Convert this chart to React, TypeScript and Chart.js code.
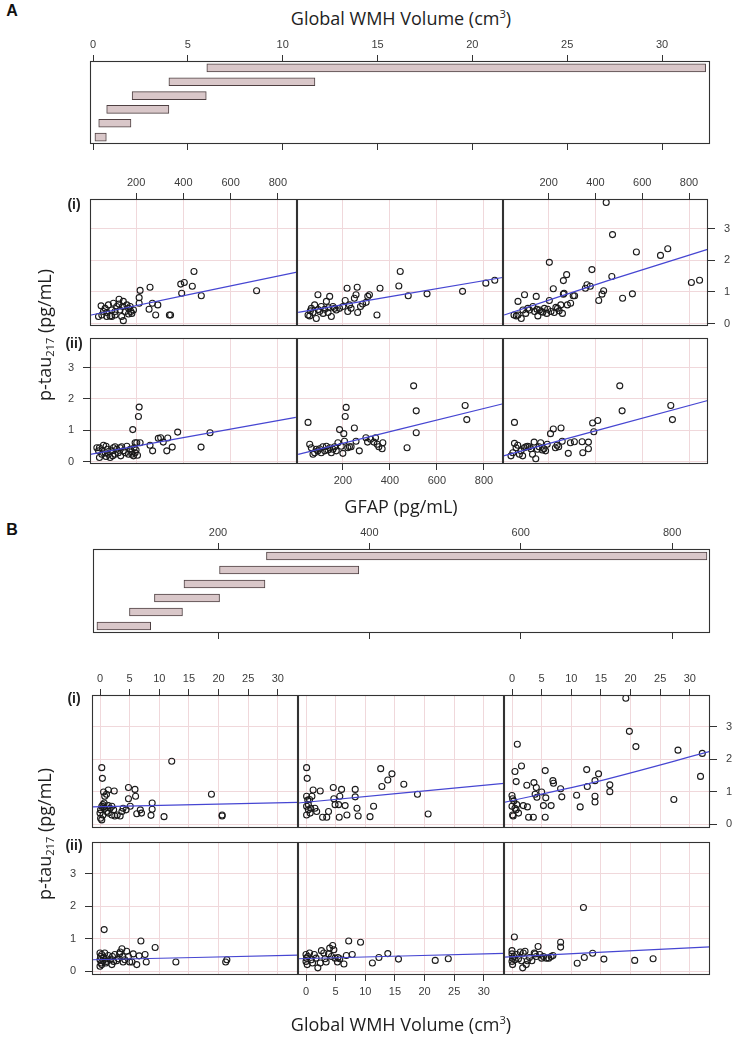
import React, { useEffect, useRef } from "react";
import { Chart, registerables } from "chart.js";

Chart.register(...registerables);

type Pt = [number, number];

// ---------------- tick labels ----------------
const GFAP_TICKS = [200, 400, 600, 800];
const WMH_TICKS = [0, 5, 10, 15, 20, 25, 30];
const PTAU_TICKS = [0, 1, 2, 3];
const SHINGLE_LEVELS = ["1", "2", "3", "4", "5", "6"];

// ---------------- given-variable intervals (shingles) ----------------
const A_WMH_LO = [0.1, 0.3, 0.72, 2.06, 4.0, 6.0];
const A_WMH_HI = [0.7, 2.0, 4.0, 5.97, 11.7, 32.3];
const B_GFAP_LO = [40, 83, 116, 155, 202, 264];
const B_GFAP_HI = [111, 153, 202, 262, 386, 846];

// ---------------- Panel A: GFAP (x) vs p-tau217 (y) ----------------
const A_I1: Pt[] = [[41,0.22],[55,0.27],[52,0.56],[69,0.48],[76,0.35],[83,0.59],[90,0.24],[97,0.43],[104,0.64],[111,0.38],[118,0.54],[128,0.77],[132,0.43],[139,0.22],[144,0.54],[146,0.09],[154,0.38],[161,0.59],[168,0.48],[175,0.54],[182,0.32],[189,0.43],[62,0.38],[76,0.22],[97,0.22],[111,0.27],[128,0.62],[146,0.70],[168,0.30],[178,0.38],[213,0.82],[217,1.05],[213,0.64],[259,1.15],[255,0.45],[269,0.64],[283,0.27],[292,0.59],[341,0.27],[346,0.27],[389,1.25],[404,1.30],[393,0.96],[438,1.18],[445,1.65],[476,0.88],[710,1.04]];
const A_I2: Pt[] = [[52,0.27],[59,0.24],[66,0.48],[73,0.35],[80,0.59],[87,0.16],[94,0.91],[101,0.38],[108,0.54],[116,0.32],[123,0.45],[130,0.70],[137,0.35],[144,0.86],[151,0.22],[158,0.54],[165,0.48],[172,0.43],[186,0.48],[200,0.54],[210,0.73],[218,1.12],[221,0.38],[228,0.59],[235,0.48],[249,0.80],[256,0.91],[261,1.15],[263,0.35],[275,0.54],[284,0.62],[299,0.67],[306,0.86],[313,0.91],[345,0.27],[358,1.12],[438,1.19],[444,1.65],[478,0.88],[558,0.94],[709,1.02],[808,1.28],[846,1.37],[62,0.40],[95,0.44],[140,0.50]];
const A_I3: Pt[] = [[52,0.27],[62,0.24],[69,0.70],[83,0.16],[90,0.43],[97,0.91],[102,0.32],[111,0.48],[118,0.43],[133,0.54],[140,0.38],[147,0.86],[154,0.24],[161,0.43],[168,0.38],[182,0.48],[192,0.32],[196,0.45],[203,0.73],[203,1.94],[210,0.38],[220,1.10],[224,0.35],[231,0.51],[238,0.48],[252,0.59],[259,0.32],[263,0.93],[263,1.36],[266,0.96],[277,1.55],[280,0.59],[294,0.64],[305,0.88],[311,0.88],[357,1.12],[364,1.23],[378,1.18],[385,1.71],[414,0.73],[428,0.93],[435,1.04],[446,3.84],[470,1.49],[473,2.82],[516,0.80],[558,0.94],[575,2.27],[678,2.16],[709,2.37],[810,1.30],[845,1.37],[69,0.27],[150,0.45],[175,0.36],[245,0.40]];
const A_II1: Pt[] = [[34,0.44],[41,0.34],[45,0.13],[55,0.23],[62,0.52],[69,0.28],[73,0.16],[79,0.39],[83,0.23],[90,0.13],[97,0.34],[104,0.44],[101,0.18],[111,0.23],[118,0.39],[125,0.28],[132,0.44],[135,0.18],[146,0.34],[154,0.28],[161,0.49],[168,0.23],[175,0.39],[182,0.23],[186,1.02],[189,0.18],[192,0.44],[196,0.60],[200,0.37],[203,0.60],[206,0.20],[210,1.44],[213,1.74],[217,0.60],[259,0.52],[270,0.34],[294,0.74],[304,0.76],[315,0.62],[330,0.34],[334,0.75],[353,0.46],[376,0.94],[475,0.46],[513,0.92],[182,0.31],[196,0.28],[45,0.44],[73,0.49],[111,0.47],[139,0.47]];
const A_II2: Pt[] = [[52,1.25],[59,0.55],[66,0.44],[73,0.23],[80,0.28],[87,0.39],[94,0.34],[101,0.41],[108,0.28],[115,0.47],[123,0.34],[130,0.49],[137,0.37],[144,0.44],[151,0.28],[158,0.39],[165,0.47],[172,0.34],[179,0.60],[186,1.02],[193,0.49],[200,0.26],[204,0.89],[207,0.65],[210,1.44],[214,1.73],[221,0.44],[228,0.47],[235,0.47],[249,1.07],[256,0.65],[270,0.34],[298,0.76],[305,0.62],[318,0.71],[332,0.62],[339,0.76],[346,0.55],[353,0.47],[367,0.41],[370,0.60],[473,0.44],[501,2.42],[512,1.62],[512,0.92],[720,1.79],[727,1.34]];
const A_II3: Pt[] = [[39,0.18],[47,0.28],[54,1.25],[54,0.58],[61,0.44],[68,0.52],[75,0.23],[82,0.34],[89,0.18],[96,0.44],[103,0.47],[110,0.49],[117,0.47],[124,0.41],[131,0.23],[138,0.62],[145,0.09],[152,0.39],[159,0.47],[166,0.60],[173,0.37],[180,0.41],[187,0.34],[194,0.55],[208,0.89],[220,1.04],[229,0.44],[236,0.52],[243,0.47],[253,1.07],[258,0.65],[284,0.26],[293,0.60],[310,0.63],[343,0.63],[346,0.28],[370,0.62],[370,0.41],[388,1.23],[393,0.95],[410,1.31],[504,2.42],[514,1.62],[722,1.79],[729,1.34]];

const A_I1_FIT: Pt[] = [[5,0.26],[881,1.63]];
const A_I2_FIT: Pt[] = [[10,0.35],[879,1.46]];
const A_I3_FIT: Pt[] = [[10,0.27],[450,1.35],[879,2.35]];
const A_II1_FIT: Pt[] = [[6,0.23],[876,1.41]];
const A_II2_FIT: Pt[] = [[10,0.23],[877,1.84]];
const A_II3_FIT: Pt[] = [[7,0.18],[880,1.95]];

// ---------------- Panel B: WMH volume (x) vs p-tau217 (y) ----------------
const B_I1: Pt[] = [[0.3,1.74],[0.4,1.41],[0.6,0.99],[0.8,0.86],[1.1,0.92],[1.4,1.05],[2.4,1.02],[0.3,0.55],[0.1,0.44],[0,0.34],[0.1,0.18],[0.3,0.13],[0.5,0.28],[0.6,0.53],[0.8,0.49],[1.1,0.39],[1.4,0.34],[1.7,0.49],[2.0,0.28],[2.3,0.44],[2.5,0.25],[2.9,0.28],[3.4,0.25],[3.7,0.39],[3.9,0.49],[4.4,0.44],[4.8,0.78],[4.8,1.13],[5.1,0.55],[5.9,1.07],[6.0,0.86],[6.2,0.32],[6.8,0.44],[7.0,0.34],[8.8,0.65],[8.8,0.46],[8.6,0.27],[10.8,0.23],[12.1,1.94],[18.8,0.92],[20.6,0.28],[20.6,0.25],[0.5,0.60],[0.7,0.65],[2.0,0.55],[1.4,0.57]];
const B_I2: Pt[] = [[0.1,1.74],[0.2,1.41],[0.1,0.86],[0.3,0.74],[0.4,0.60],[0.1,0.55],[0.4,0.44],[0.1,0.28],[0.7,0.34],[1.0,0.86],[1.2,1.05],[1.5,0.49],[1.8,0.39],[2.4,1.02],[2.8,0.21],[3.5,0.21],[3.8,0.39],[4.6,1.13],[4.7,0.78],[4.9,0.60],[5.5,0.60],[5.7,0.86],[5.6,0.21],[6.0,1.07],[6.6,0.57],[6.9,0.28],[8.3,1.07],[8.3,0.84],[8.6,0.49],[8.8,0.25],[10.8,0.23],[11.4,0.55],[12.6,1.71],[12.8,1.16],[13.8,1.36],[14.5,1.55],[16.5,1.23],[18.8,0.92],[20.6,0.31],[0.6,0.76],[0.8,0.49]];
const B_I3: Pt[] = [[0,0.88],[0.1,0.78],[0,0.55],[0.1,0.28],[0.2,0.25],[0.3,0.71],[0.5,1.62],[0.7,1.31],[0.7,0.44],[0.9,2.46],[0.5,0.49],[0.8,0.60],[1.1,0.34],[1.6,1.79],[1.9,0.57],[2.5,1.2],[2.6,0.53],[2.8,0.21],[3.6,0.21],[3.7,1.28],[4.1,1.13],[3.9,0.92],[4.2,0.83],[5.0,0.99],[5.6,1.65],[5.3,0.57],[5.7,0.81],[5.6,0.21],[6.6,0.57],[6.9,1.34],[7.0,1.26],[8.2,1.09],[8.4,0.84],[10.9,0.89],[11.5,0.53],[12.6,1.68],[12.7,1.16],[14.0,1.34],[14.0,0.86],[14.0,0.68],[14.6,1.55],[16.5,1.21],[16.5,1.0],[19.2,3.88],[19.8,2.86],[20.9,2.39],[27.3,0.76],[28.0,2.28],[31.8,1.47],[32.1,2.18]];
const B_II1: Pt[] = [[0.7,1.28],[0,0.56],[0.1,0.45],[0,0.35],[0.2,0.25],[0,0.15],[0.3,0.2],[0.5,0.32],[0.6,0.42],[0.8,0.56],[1.0,0.25],[1.1,0.38],[1.4,0.48],[1.7,0.35],[2.0,0.2],[2.1,0.45],[2.5,0.51],[2.8,0.32],[3.1,0.38],[3.3,0.53],[3.4,0.59],[3.7,0.69],[3.8,0.45],[3.9,0.28],[4.2,0.35],[4.5,0.61],[4.8,0.45],[5.0,0.28],[5.4,0.28],[5.6,0.53],[6.2,0.2],[6.6,0.47],[6.9,0.93],[7.6,0.51],[7.8,0.28],[9.3,0.73],[12.8,0.28],[21.2,0.28],[21.4,0.35],[0.3,0.51],[1.1,0.30],[2.3,0.30]];
const B_II2: Pt[] = [[0,0.51],[0.1,0.40],[0,0.30],[0.2,0.2],[0.3,0.45],[0.6,0.56],[0.9,0.35],[1.1,0.25],[1.4,0.51],[1.7,0.40],[2.0,0.1],[2.4,0.25],[2.6,0.63],[3.0,0.56],[3.2,0.38],[3.4,0.28],[3.8,0.53],[4.0,0.71],[4.3,0.45],[4.5,0.79],[4.7,0.66],[4.9,0.40],[5.3,0.28],[5.4,0.42],[5.7,0.38],[6.4,0.22],[6.8,0.48],[7.2,0.93],[7.8,0.51],[9.2,0.89],[11.2,0.25],[12.3,0.42],[13.8,0.54],[15.6,0.37],[21.8,0.33],[24.0,0.38]];
const B_II3: Pt[] = [[0.4,1.05],[0,0.63],[0,0.53],[0.1,0.40],[0,0.30],[0.1,0.2],[0.3,0.45],[0.5,0.35],[0.8,0.51],[1.1,0.38],[1.4,0.59],[1.6,0.32],[1.8,0.1],[1.9,0.56],[2.2,0.61],[2.4,0.2],[2.6,0.32],[2.95,0.42],[3.35,0.32],[3.75,0.56],[3.9,0.53],[4.1,0.45],[4.4,0.76],[4.7,0.51],[5.0,0.40],[5.3,0.45],[5.8,0.40],[6.2,0.40],[6.6,0.45],[6.9,0.48],[8.2,0.89],[8.2,0.74],[11.0,0.24],[12.05,1.96],[12.2,0.42],[13.6,0.55],[15.5,0.37],[20.7,0.33],[23.8,0.38]];

const B_I1_FIT: Pt[] = [[-1.4,0.53],[33.4,0.67]];
const B_I2_FIT: Pt[] = [[-1.4,0.65],[33.5,1.26]];
const B_I3_FIT: Pt[] = [[-1.4,0.67],[14.3,1.31],[33.4,2.24]];
const B_II1_FIT: Pt[] = [[-1.4,0.35],[33.4,0.49]];
const B_II2_FIT: Pt[] = [[-1.4,0.38],[33.9,0.55]];
const B_II3_FIT: Pt[] = [[-1.4,0.43],[33.75,0.75]];

// ---------------- styling ----------------
const M = 30;
const GRID = "#f0d8db";
const AXIS = "#333333";
const TICK_COLOR = "#3c3c3c";
const TICK_FONT = { family: "'Liberation Sans', Arial, sans-serif", size: 11 };
const LINE = "#4646d2";
const BAR_FILL = "#d9c7c9";
const BAR_EDGE = "#4e4042";
const TITLE_FONT = "'Open Sans', 'Noto Sans', sans-serif";

interface CellSpec {
  left: number; top: number; w: number; h: number;
  xMin: number; xMax: number; yMin: number; yMax: number;
  xTicks: number[];
  pts: Pt[]; fit: Pt[];
  showTop?: boolean; showBottom?: boolean; showLeft?: boolean; showRight?: boolean;
}

const AX = { xMin: 5, xMax: 881, yMin: -0.08, yMax: 3.95, xTicks: GFAP_TICKS };
const BX = { xMin: -1.35, xMax: 33.4, yMin: -0.12, yMax: 3.98, xTicks: WMH_TICKS };

const CELLS: CellSpec[] = [
  { ...AX, left: 90, top: 199, w: 207, h: 127, pts: A_I1, fit: A_I1_FIT, showTop: true },
  { ...AX, left: 297, top: 199, w: 206, h: 127, pts: A_I2, fit: A_I2_FIT },
  { ...AX, left: 503, top: 199, w: 205, h: 127, pts: A_I3, fit: A_I3_FIT, showTop: true, showRight: true },
  { ...AX, left: 90, top: 338, w: 207, h: 126, pts: A_II1, fit: A_II1_FIT, showLeft: true },
  { ...AX, left: 297, top: 338, w: 206, h: 126, pts: A_II2, fit: A_II2_FIT, showBottom: true },
  { ...AX, left: 503, top: 338, w: 205, h: 126, pts: A_II3, fit: A_II3_FIT },
  { ...BX, left: 92, top: 695, w: 206, h: 133, pts: B_I1, fit: B_I1_FIT, showTop: true },
  { ...BX, left: 298, top: 695, w: 206, h: 133, pts: B_I2, fit: B_I2_FIT },
  { ...BX, left: 504, top: 695, w: 206, h: 133, pts: B_I3, fit: B_I3_FIT, showTop: true, showRight: true },
  { ...BX, left: 92, top: 842, w: 206, h: 133, pts: B_II1, fit: B_II1_FIT, showLeft: true },
  { ...BX, left: 298, top: 842, w: 206, h: 133, pts: B_II2, fit: B_II2_FIT, showBottom: true },
  { ...BX, left: 504, top: 842, w: 206, h: 133, pts: B_II3, fit: B_II3_FIT },
];

interface ShingleSpec {
  left: number; top: number; w: number; h: number;
  xMin: number; xMax: number; ticks: number[]; lo: number[]; hi: number[];
}

const SHINGLES: ShingleSpec[] = [
  { left: 90, top: 61, w: 620, h: 83, xMin: -0.16, xMax: 32.53, ticks: WMH_TICKS, lo: A_WMH_LO, hi: A_WMH_HI },
  { left: 93, top: 549, w: 617, h: 84, xMin: 34.8, xMax: 850, ticks: GFAP_TICKS, lo: B_GFAP_LO, hi: B_GFAP_HI },
];

const boxPlugin = {
  id: "panelBox",
  afterDraw(chart: any) {
    const { ctx, chartArea: a } = chart;
    ctx.save();
    ctx.strokeStyle = AXIS;
    ctx.lineWidth = 1.1;
    ctx.strokeRect(a.left + 0.5, a.top + 0.5, a.right - a.left - 1, a.bottom - a.top - 1);
    ctx.restore();
  },
};

function linAxis(
  position: "top" | "bottom" | "left" | "right",
  min: number,
  max: number,
  vals: number[],
  o: { grid: boolean; marks: boolean; labels: boolean; len: number; pad: number }
): any {
  const horiz = position === "top" || position === "bottom";
  return {
    type: "linear",
    position,
    min,
    max,
    bounds: "data",
    afterBuildTicks: (s: any) => {
      s.ticks = vals.map((v) => ({ value: v }));
    },
    afterFit: (s: any) => {
      if (horiz) s.height = M;
      else s.width = M;
    },
    grid: {
      display: o.grid || o.marks,
      drawOnChartArea: o.grid,
      drawTicks: o.marks,
      tickLength: o.len,
      color: GRID,
      tickColor: AXIS,
      lineWidth: 1,
      tickWidth: 1,
    },
    border: { display: false },
    ticks: {
      display: o.labels,
      padding: o.pad,
      font: TICK_FONT,
      color: TICK_COLOR,
      maxRotation: 0,
      minRotation: 0,
      autoSkip: false,
      includeBounds: false,
    },
  };
}

function makeCell(cv: HTMLCanvasElement, c: CellSpec): Chart {
  return new Chart(cv, {
    type: "scatter",
    data: {
      datasets: [
        {
          data: c.pts.map(([x, y]) => ({ x, y })),
          pointRadius: 3,
          pointBorderWidth: 1.1,
          borderColor: "#1a1a1a",
          backgroundColor: "rgba(0,0,0,0)",
          order: 2,
        } as any,
        {
          data: c.fit.map(([x, y]) => ({ x, y })),
          showLine: true,
          pointRadius: 0,
          borderColor: LINE,
          borderWidth: 1.2,
          backgroundColor: LINE,
          tension: 0.3,
          order: 1,
        } as any,
      ],
    },
    options: {
      responsive: false,
      animation: false,
      events: [],
      layout: { padding: 0 },
      plugins: { legend: { display: false }, tooltip: { enabled: false } },
      scales: {
        x: linAxis("bottom", c.xMin, c.xMax, c.xTicks, { grid: true, marks: !!c.showBottom, labels: !!c.showBottom, len: 6, pad: 4 }),
        x2: linAxis("top", c.xMin, c.xMax, c.xTicks, { grid: false, marks: !!c.showTop, labels: !!c.showTop, len: 6, pad: 3 }),
        y: linAxis("left", c.yMin, c.yMax, PTAU_TICKS, { grid: true, marks: !!c.showLeft, labels: !!c.showLeft, len: 7, pad: 9 }),
        y2: linAxis("right", c.yMin, c.yMax, PTAU_TICKS, { grid: false, marks: !!c.showRight, labels: !!c.showRight, len: 7, pad: 9 }),
      },
    } as any,
    plugins: [boxPlugin],
  });
}

function makeShingle(cv: HTMLCanvasElement, s: ShingleSpec): Chart {
  return new Chart(cv, {
    type: "bar",
    data: {
      labels: SHINGLE_LEVELS,
      datasets: [
        {
          data: s.lo.map((lo, i) => [lo, s.hi[i]]),
          backgroundColor: BAR_FILL,
          borderColor: BAR_EDGE,
          borderWidth: 1,
          borderSkipped: false,
          barThickness: 8,
        } as any,
      ],
    },
    options: {
      indexAxis: "y",
      responsive: false,
      animation: false,
      events: [],
      layout: { padding: 0 },
      plugins: { legend: { display: false }, tooltip: { enabled: false } },
      scales: {
        x: linAxis("bottom", s.xMin, s.xMax, s.ticks, { grid: false, marks: true, labels: false, len: 6, pad: 4 }),
        x2: linAxis("top", s.xMin, s.xMax, s.ticks, { grid: false, marks: true, labels: true, len: 6, pad: 3 }),
        y: {
          type: "category",
          position: "left",
          reverse: true,
          offset: true,
          afterFit: (sc: any) => {
            sc.width = M;
          },
          grid: { display: false },
          ticks: { display: false },
          border: { display: false },
        },
        y2: {
          type: "linear",
          position: "right",
          min: 0,
          max: 1,
          afterFit: (sc: any) => {
            sc.width = M;
          },
          grid: { display: false },
          ticks: { display: false },
          border: { display: false },
        },
      },
    } as any,
    plugins: [boxPlugin],
  });
}

const Label: React.FC<{ cx: number; cy: number; style?: React.CSSProperties; rotate?: boolean; children: React.ReactNode }> = ({ cx, cy, style, rotate, children }) => (
  <div
    style={{
      position: "absolute",
      left: cx,
      top: cy,
      transform: `translate(-50%, -50%)${rotate ? " rotate(-90deg)" : ""}`,
      whiteSpace: "nowrap",
      lineHeight: 1,
      color: "#1e1e1e",
      ...style,
    }}
  >
    {children}
  </div>
);

const titleStyle: React.CSSProperties = { fontFamily: TITLE_FONT, fontSize: 18 };
const panelStyle: React.CSSProperties = { fontFamily: "'Liberation Sans', Arial, sans-serif", fontSize: 16, fontWeight: 700, color: "#111" };
const rowStyle: React.CSSProperties = { fontFamily: "'Liberation Sans', Arial, sans-serif", fontSize: 14, fontWeight: 700, color: "#222" };
const supStyle: React.CSSProperties = { fontSize: "0.62em", verticalAlign: "0.6em", lineHeight: 0 };
const subStyle: React.CSSProperties = { fontSize: "0.62em", verticalAlign: "-0.3em", lineHeight: 0 };

const WmhTitle = () => (
  <>
    Global WMH Volume (cm<span style={supStyle}>3</span>)
  </>
);
const PtauTitle = () => (
  <>
    p-tau<span style={subStyle}>217</span> (pg/mL)
  </>
);

export default function App() {
  const refs = useRef<(HTMLCanvasElement | null)[]>([]);

  useEffect(() => {
    const charts: Chart[] = [];
    CELLS.forEach((c, i) => {
      const cv = refs.current[i];
      if (cv) charts.push(makeCell(cv, c));
    });
    SHINGLES.forEach((s, j) => {
      const cv = refs.current[CELLS.length + j];
      if (cv) charts.push(makeShingle(cv, s));
    });
    return () => charts.forEach((ch) => ch.destroy());
  }, []);

  const boxes = [...CELLS, ...SHINGLES];

  return (
    <div style={{ position: "fixed", left: 0, top: 0, width: 738, height: 1040, background: "#fff", overflow: "hidden" }}>
      {boxes.map((b, i) => (
        <canvas
          key={i}
          ref={(el) => {
            refs.current[i] = el;
          }}
          width={b.w + 2 * M}
          height={b.h + 2 * M}
          style={{ position: "absolute", left: b.left - M, top: b.top - M, width: b.w + 2 * M, height: b.h + 2 * M }}
        />
      ))}

      <Label cx={12} cy={11} style={panelStyle}>A</Label>
      <Label cx={401} cy={18} style={titleStyle}><WmhTitle /></Label>
      <Label cx={74} cy={204} style={rowStyle}>(i)</Label>
      <Label cx={74} cy={343} style={rowStyle}>(ii)</Label>
      <Label cx={44} cy={335} rotate style={titleStyle}><PtauTitle /></Label>
      <Label cx={401} cy={506} style={titleStyle}>GFAP (pg/mL)</Label>

      <Label cx={12} cy={530} style={panelStyle}>B</Label>
      <Label cx={74} cy={698} style={rowStyle}>(i)</Label>
      <Label cx={74} cy={845} style={rowStyle}>(ii)</Label>
      <Label cx={44} cy={834} rotate style={titleStyle}><PtauTitle /></Label>
      <Label cx={401} cy={1024} style={titleStyle}><WmhTitle /></Label>
    </div>
  );
}
